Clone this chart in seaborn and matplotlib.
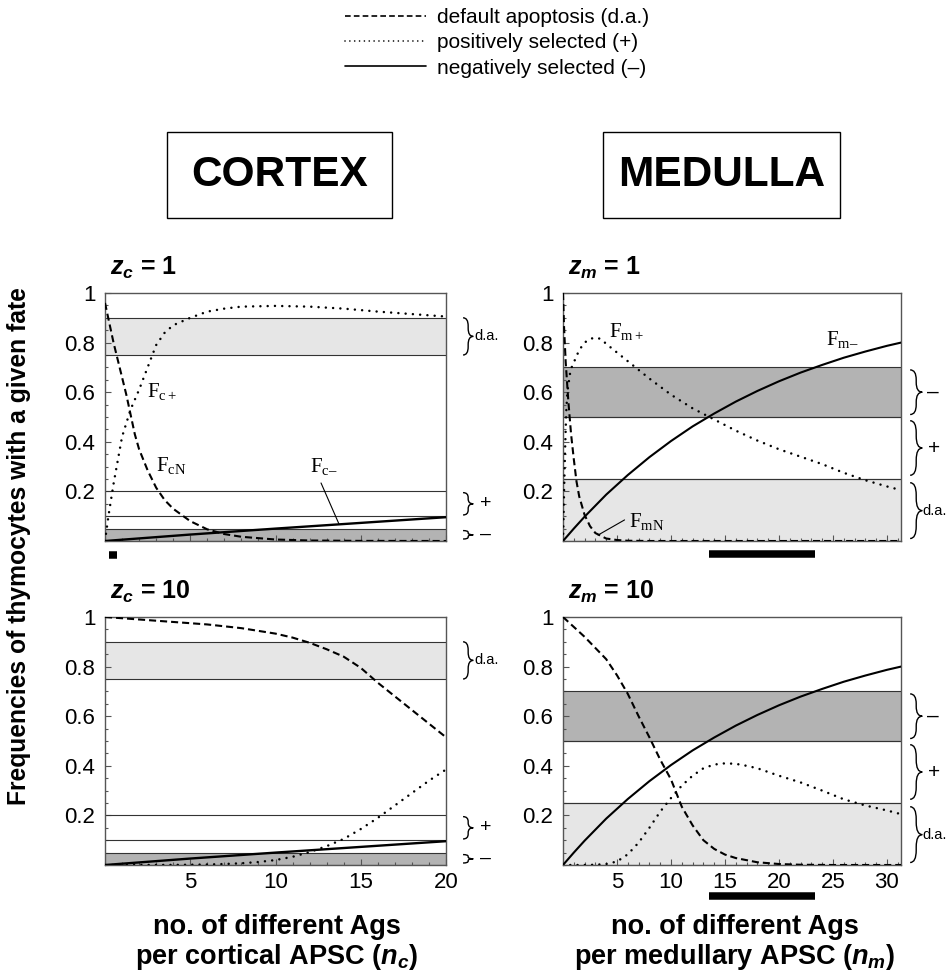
import matplotlib
matplotlib.use('Agg')
import matplotlib.pyplot as plt
import matplotlib.transforms as mtransforms
from matplotlib.path import Path
from matplotlib.patches import PathPatch, Rectangle
from matplotlib.lines import Line2D
from matplotlib.ticker import MultipleLocator
import seaborn as sns

# ---- cortex curves (x = n_c) ----
nc_neg = [0, 5, 10, 15, 20]
fc_neg = [0, 0.026, 0.05, 0.073, 0.096]

nc_da_z1 = [0, 0.25, 0.5, 0.75, 1.0, 1.25, 1.5, 1.75, 2.0, 2.5, 3.0, 3.5, 4.0, 5.0, 6.0, 7.0, 8.0, 10.0, 12.0, 15.0, 20.0]
fc_da_z1 = [0.96, 0.88, 0.80, 0.73, 0.66, 0.59, 0.51, 0.43, 0.37, 0.285, 0.215, 0.165, 0.13, 0.08, 0.047, 0.028, 0.017, 0.006, 0.002, 0.0005, 0.0]

nc_pos_z1 = [0, 0.1, 0.2, 0.5, 1.0, 1.5, 2.0, 2.5, 3.0, 3.5, 4.0, 5.0, 6.0, 7.0, 8.0, 10.0, 12.0, 14.0, 16.0, 18.0, 20.0]
fc_pos_z1 = [0, 0.05, 0.1, 0.23, 0.42, 0.53, 0.61, 0.70, 0.79, 0.84, 0.87, 0.90, 0.925, 0.937, 0.945, 0.948, 0.945, 0.937, 0.925, 0.915, 0.905]

nc_da_z10 = [0, 2, 4, 6, 8, 10, 11, 12, 13, 14, 15, 16, 17, 18, 19, 20]
fc_da_z10 = [1.0, 0.99, 0.98, 0.97, 0.955, 0.933, 0.917, 0.896, 0.87, 0.84, 0.795, 0.735, 0.68, 0.625, 0.57, 0.515]

nc_pos_z10 = [0, 4, 6, 7, 8, 9, 10, 11, 12, 13, 14, 15, 16, 17, 18, 19, 20]
fc_pos_z10 = [0, 0.0003, 0.002, 0.004, 0.007, 0.012, 0.02, 0.033, 0.052, 0.076, 0.105, 0.145, 0.19, 0.24, 0.29, 0.34, 0.385]

# ---- medulla curves (x = n_m) ----
nm_neg = [0, 1, 2, 4, 6, 8, 10, 12, 14, 16, 18, 20, 22, 24, 26, 28, 30, 31.3]
fm_neg = [0, 0.05, 0.098, 0.187, 0.266, 0.338, 0.403, 0.462, 0.514, 0.562, 0.605, 0.644, 0.679, 0.71, 0.739, 0.764, 0.787, 0.80]

nm_da_z1 = [0, 0.1, 0.25, 0.5, 0.75, 1.0, 1.25, 1.5, 2.0, 2.5, 3.0, 4.0, 5.0, 6.0, 8.0, 12.0, 20.0, 31.3]
fm_da_z1 = [1.0, 0.86, 0.72, 0.56, 0.43, 0.33, 0.24, 0.18, 0.105, 0.06, 0.032, 0.01, 0.004, 0.001, 0, 0, 0, 0]

nm_pos_z1 = [0, 0.1, 0.2, 0.3, 0.4, 0.7, 1.0, 1.5, 2.0, 2.5, 3.0, 3.5, 4.0, 5.0, 6.0, 7.0, 8.0, 10, 12, 14, 16, 18, 20, 22, 24, 26, 28, 30, 31.3]
fm_pos_z1 = [0, 0.2, 0.38, 0.52, 0.6, 0.69, 0.72, 0.77, 0.80, 0.815, 0.82, 0.815, 0.795, 0.76, 0.725, 0.69, 0.655, 0.59, 0.535, 0.49, 0.445, 0.405, 0.37, 0.34, 0.31, 0.275, 0.245, 0.22, 0.205]

nm_da_z10 = [0, 1, 2, 3, 4, 5, 6, 7, 8, 9, 10, 11, 12, 13, 14, 15, 16, 18, 20, 22, 25, 31.3]
fm_da_z10 = [1.0, 0.96, 0.92, 0.875, 0.83, 0.765, 0.69, 0.60, 0.515, 0.425, 0.345, 0.235, 0.16, 0.10, 0.065, 0.042, 0.028, 0.011, 0.004, 0.001, 0, 0]

nm_pos_z10 = [0, 2, 3, 4, 5, 6, 7, 8, 9, 10, 11, 12, 13, 14, 15, 16, 17, 18, 20, 22, 24, 26, 28, 30, 31.3]
fm_pos_z10 = [0, 0, 0.001, 0.004, 0.014, 0.043, 0.09, 0.15, 0.215, 0.27, 0.32, 0.36, 0.39, 0.405, 0.41, 0.408, 0.40, 0.39, 0.36, 0.333, 0.30, 0.265, 0.24, 0.22, 0.205]

# selection windows (low, high) for each fate
cortex_da = [0.75, 0.9]
cortex_plus = [0.1, 0.2]
cortex_minus = [0.0, 0.05]
medulla_da = [0.0, 0.25]
medulla_plus = [0.25, 0.5]
medulla_minus = [0.5, 0.7]

# ranges marked under the panels
cortex_range = [0.25, 0.7]
medulla_range = [13.5, 23.3]

LIGHT = '#e6e6e6'
DARK = '#b3b3b3'
DASH = (0, (3.4, 1.9))
DOT = (0, (0.01, 2.9))

sns.set_style('white')
plt.rcParams['font.family'] = ['Liberation Sans', 'DejaVu Sans']
plt.rcParams['text.color'] = 'black'
plt.rcParams['xtick.color'] = 'black'
plt.rcParams['ytick.color'] = 'black'
plt.rcParams['axes.labelcolor'] = 'black'
plt.rcParams['mathtext.fontset'] = 'custom'
plt.rcParams['mathtext.rm'] = 'Liberation Serif'
plt.rcParams['mathtext.it'] = 'Liberation Sans:italic:bold'
plt.rcParams['mathtext.bf'] = 'Liberation Sans:bold'

fig = plt.figure(figsize=(9.47, 9.77), dpi=100)
W, H = 947, 977


def px_axes(l, t, r, b):
    return fig.add_axes([l / W, 1 - b / H, (r - l) / W, (b - t) / H])


def brace(ax, x0, w, lo, hi, label, lx, fs):
    trans = mtransforms.blended_transform_factory(ax.transAxes, ax.transData)
    r = (hi - lo) * 0.22
    xm = x0 + w / 2
    ym = (lo + hi) / 2
    verts = [(x0, hi), (xm, hi), (xm, hi - r), (xm, ym + r), (xm, ym), (x0 + w, ym),
             (xm, ym), (xm, ym - r), (xm, lo + r), (xm, lo), (x0, lo)]
    codes = [Path.MOVETO, Path.CURVE3, Path.CURVE3, Path.LINETO, Path.CURVE3, Path.CURVE3,
             Path.CURVE3, Path.CURVE3, Path.LINETO, Path.CURVE3, Path.CURVE3]
    ax.add_patch(PathPatch(Path(verts, codes), fill=False, lw=1.0, ec='black',
                           transform=trans, clip_on=False))
    ax.text(lx, ym, label, transform=trans, fontsize=fs, va='center', ha='left')


def panel(ax, xmax, xticks, bands, curves, title):
    for (lo, hi), col in bands:
        ax.axhspan(lo, hi, color=col, lw=0, zorder=0)
        ax.axhline(lo, color='#333333', lw=0.8, zorder=1)
        ax.axhline(hi, color='#333333', lw=0.8, zorder=1)
    for xs, ys, ls, lw in curves:
        kw = dict(dash_capstyle='round') if ls == DOT else {}
        sns.lineplot(x=xs, y=ys, ax=ax, color='black', lw=lw, linestyle=ls,
                     estimator=None, sort=False, zorder=3, **kw)
    ax.set_xlim(0, xmax)
    ax.set_ylim(0, 1)
    ax.set_xticks(xticks)
    ax.set_xticklabels([str(t) for t in xticks])
    ax.set_yticks([0.2, 0.4, 0.6, 0.8, 1.0])
    ax.set_yticklabels(['0.2', '0.4', '0.6', '0.8', '1'])
    ax.xaxis.set_minor_locator(MultipleLocator(1))
    ax.yaxis.set_minor_locator(MultipleLocator(0.05))
    ax.tick_params(which='both', direction='in', color='#555555', width=0.8,
                   left=True, bottom=True, labelsize=16)
    ax.tick_params(which='major', length=4)
    ax.tick_params(which='minor', length=2)
    ax.tick_params(axis='y', pad=7)
    ax.tick_params(axis='x', pad=5)
    for s in ax.spines.values():
        s.set_color('#555555')
        s.set_linewidth(1.0)
    ax.text(0.015, 1.1, title, transform=ax.transAxes, fontsize=18,
            fontweight='bold', va='center', ha='left')


cortex_bands = [(cortex_da, LIGHT), (cortex_plus, 'white'), (cortex_minus, DARK)]
medulla_bands = [(medulla_da, LIGHT), (medulla_plus, 'white'), (medulla_minus, DARK)]

ax1 = px_axes(105, 293, 446, 541)
ax2 = px_axes(563, 293, 901, 541)
ax3 = px_axes(105, 617, 446, 865)
ax4 = px_axes(563, 617, 901, 865)

panel(ax1, 20, [5, 10, 15, 20], cortex_bands,
      [(nc_da_z1, fc_da_z1, DASH, 1.5), (nc_pos_z1, fc_pos_z1, DOT, 1.8), (nc_neg, fc_neg, '-', 1.7)],
      r'$z_c$ = 1')
panel(ax3, 20, [5, 10, 15, 20], cortex_bands,
      [(nc_da_z10, fc_da_z10, DASH, 1.5), (nc_pos_z10, fc_pos_z10, DOT, 1.8), (nc_neg, fc_neg, '-', 1.7)],
      r'$z_c$ = 10')
panel(ax2, 31.3, [5, 10, 15, 20, 25, 30], medulla_bands,
      [(nm_da_z1, fm_da_z1, DASH, 1.5), (nm_pos_z1, fm_pos_z1, DOT, 1.8), (nm_neg, fm_neg, '-', 1.5)],
      r'$z_m$ = 1')
panel(ax4, 31.3, [5, 10, 15, 20, 25, 30], medulla_bands,
      [(nm_da_z10, fm_da_z10, DASH, 1.5), (nm_pos_z10, fm_pos_z10, DOT, 1.8), (nm_neg, fm_neg, '-', 1.5)],
      r'$z_m$ = 10')

# top row x tick labels hidden
for ax in (ax1, ax2):
    ax.tick_params(axis='x', labelbottom=False)

# braces
for ax in (ax1, ax3):
    brace(ax, 1.05, 0.03, cortex_da[0], cortex_da[1], 'd.a.', 1.083, 10.5)
    brace(ax, 1.05, 0.03, cortex_plus[0] + 0.005, cortex_plus[1] - 0.005, '+', 1.10, 14)
    brace(ax, 1.05, 0.03, cortex_minus[0] + 0.008, cortex_minus[1] - 0.008, '–', 1.10, 14)
for ax in (ax2, ax4):
    brace(ax, 1.027, 0.036, medulla_minus[0] + 0.01, medulla_minus[1] - 0.01, '–', 1.077, 15)
    brace(ax, 1.027, 0.036, medulla_plus[0] + 0.015, medulla_plus[1] - 0.015, '+', 1.08, 15)
    brace(ax, 1.027, 0.036, medulla_da[0] + 0.01, medulla_da[1] - 0.015, 'd.a.', 1.062, 10.5)

# curve labels
lab = dict(fontsize=15, va='center', ha='left')
ax1.text(2.45, 0.6, r'$\mathrm{F}_{\mathrm{c+}}$', **lab)
ax1.text(3.0, 0.30, r'$\mathrm{F}_{\mathrm{cN}}$', **lab)
ax1.text(12.0, 0.295, '$\\mathrm{F}_{\\mathrm{c\u2013}}$', **lab)
ax1.plot([12.67, 13.72], [0.234, 0.069], color='black', lw=0.8)
ax2.text(4.3, 0.84, r'$\mathrm{F}_{\mathrm{m+}}$', **lab)
ax2.text(24.4, 0.81, '$\\mathrm{F}_{\\mathrm{m\u2013}}$', **lab)
ax2.text(6.1, 0.075, r'$\mathrm{F}_{\mathrm{mN}}$', **lab)
ax2.plot([5.7, 3.25], [0.085, 0.024], color='black', lw=0.8)

# range markers
for ax, rng, yy in ((ax1, cortex_range, -0.056), (ax2, medulla_range, -0.054), (ax4, medulla_range, -0.123)):
    tr = mtransforms.blended_transform_factory(ax.transData, ax.transAxes)
    ax.plot(rng, [yy, yy], transform=tr, clip_on=False, color='black', lw=5.4,
            solid_capstyle='butt')

# region boxes
for (l, r), name in (((167, 392), 'CORTEX'), ((603, 840), 'MEDULLA')):
    fig.add_artist(Rectangle((l / W, 1 - 218 / H), (r - l) / W, 86 / H, transform=fig.transFigure,
                             fill=False, ec='black', lw=1.0))
    fig.text((l + r) / 2 / W, 1 - 175 / H, name, fontsize=30.5, fontweight='bold',
             ha='center', va='center')

# axis labels
fig.text(19 / W, 1 - 546 / H, 'Frequencies of thymocytes with a given fate', rotation=90,
         fontsize=17.7, fontweight='bold', ha='center', va='center')
fig.text(277 / W, 1 - 943 / H, 'no. of different Ags\nper cortical APSC ($n_c$)',
         fontsize=19.5, fontweight='bold', ha='center', va='center', linespacing=1.05)
fig.text(735 / W, 1 - 943 / H, 'no. of different Ags\nper medullary APSC ($n_m$)',
         fontsize=19.5, fontweight='bold', ha='center', va='center', linespacing=1.05)

# legend
handles = [Line2D([], [], color='black', lw=1.2, linestyle=DASH),
           Line2D([], [], color='black', lw=1.2, linestyle=DOT, dash_capstyle='round'),
           Line2D([], [], color='black', lw=1.2)]
labels = ['default apoptosis (d.a.)', 'positively selected (+)', 'negatively selected (–)']
fig.legend(handles, labels, loc='upper left', bbox_to_anchor=(345 / W, 1 - 8 / H),
           frameon=False, fontsize=15, handlelength=3.9, handletextpad=0.5,
           labelspacing=0.3, borderpad=0, borderaxespad=0)

fig.savefig('out.png', dpi=100)
